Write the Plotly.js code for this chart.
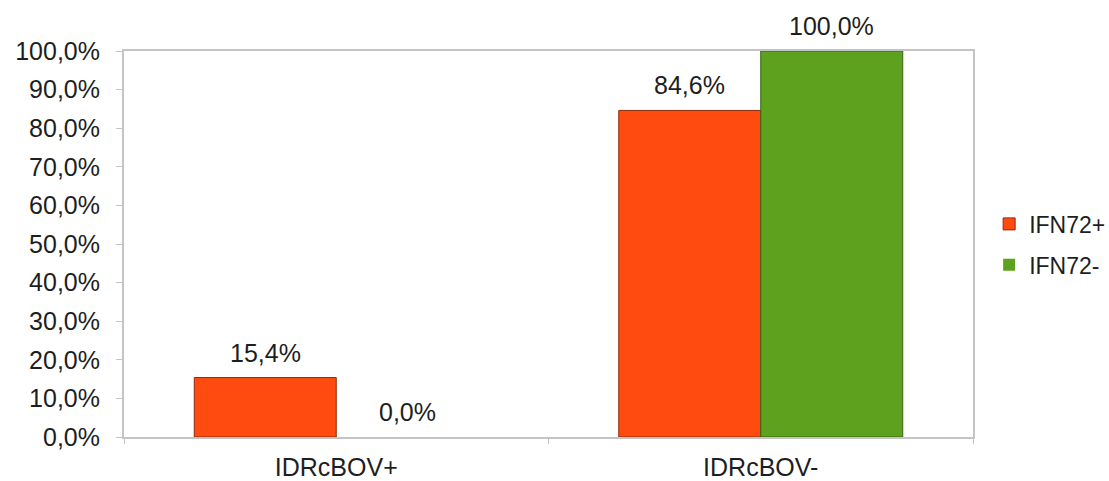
<!DOCTYPE html>
<html>
<head>
<meta charset="utf-8">
<script src="https://cdn.plot.ly/plotly-3.0.1.min.js"></script>
<style>
  html, body { margin: 0; padding: 0; background: #ffffff; }
  #chart { width: 1109px; height: 481px; }
</style>
</head>
<body>
<div id="chart"></div>
<script>
// Categories and series values (fractions of 1)
const categories = ['IDRcBOV+', 'IDRcBOV-'];
const seriesNames = ['IFN72+', 'IFN72-'];
const ifn72Plus = [0.154, 0.846];
const ifn72Minus = [0.0, 1.0];
const yTickValues = [0, 0.1, 0.2, 0.3, 0.4, 0.5, 0.6, 0.7, 0.8, 0.9, 1.0];

const FONT = 'Liberation Sans, Arial, sans-serif';
const TEXT = '#1e1e1e';
const BARGAP = 0.331;
const halfBar = (1 - BARGAP) / 4; // offset of each bar centre from its category centre

function pct(v) {
  return (v * 100).toFixed(1).replace('.', ',') + '%';
}

// outline only on bars that have a height
const outline = (vals) => vals.map(v => (v > 0 ? 1 : 0));

const traces = [
  {
    type: 'bar', name: seriesNames[0], x: categories, y: ifn72Plus,
    marker: { color: '#ff4a10', line: { color: '#8c2c0c', width: outline(ifn72Plus) } },
    legend: 'legend', hoverinfo: 'skip'
  },
  {
    type: 'bar', name: seriesNames[1], x: categories, y: ifn72Minus,
    marker: { color: '#5ea11e', line: { color: '#346410', width: outline(ifn72Minus) } },
    legend: 'legend2', hoverinfo: 'skip'
  }
];

// Value labels above each bar
const annotations = [];
[ifn72Plus, ifn72Minus].forEach((vals, s) => {
  vals.forEach((v, i) => {
    annotations.push({
      x: i + (s === 0 ? -halfBar : halfBar), y: v,
      xref: 'x', yref: 'y',
      text: pct(v), showarrow: false,
      yanchor: 'middle', yshift: 25,
      font: { family: FONT, size: 25, color: TEXT }
    });
  });
});

const legendStyle = (y) => ({
  x: 1.019, xanchor: 'left', y: y, yanchor: 'middle',
  bgcolor: 'rgba(0,0,0,0)', borderwidth: 0,
  font: { family: FONT, size: 23, color: TEXT },
  itemwidth: 30
});

const layout = {
  width: 1109, height: 481,
  margin: { l: 124, r: 136, t: 51, b: 44, autoexpand: false },
  paper_bgcolor: '#ffffff', plot_bgcolor: '#ffffff',
  separators: ',.',
  barmode: 'group', bargap: BARGAP, bargroupgap: 0,
  font: { family: FONT, size: 25, color: TEXT },
  showlegend: true,
  legend: legendStyle(0.552),
  legend2: legendStyle(0.446),
  xaxis: {
    type: 'category',
    showline: true, linecolor: '#c4c4c4', linewidth: 2, mirror: true,
    ticks: 'outside', tickson: 'boundaries', ticklen: 5, tickcolor: '#c4c4c4',
    showgrid: false, zeroline: false,
    tickfont: { family: FONT, size: 25, color: TEXT },
    ticklabelstandoff: 7
  },
  yaxis: {
    range: [0, 1], tickvals: yTickValues, tickformat: '.1%',
    showline: true, linecolor: '#c4c4c4', linewidth: 2, mirror: true,
    ticks: 'outside', ticklen: 6, tickcolor: '#c4c4c4',
    showgrid: false, zeroline: false,
    tickfont: { family: FONT, size: 25, color: TEXT },
    ticklabelstandoff: 11
  },
  annotations: annotations
};

Plotly.newPlot('chart', traces, layout, { staticPlot: true, displayModeBar: false });
</script>
</body>
</html>
